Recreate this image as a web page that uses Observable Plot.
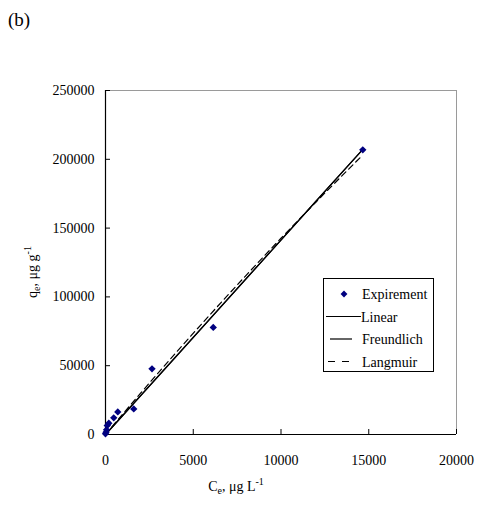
<!DOCTYPE html>
<html>
<head>
<meta charset="utf-8">
<script src="https://cdn.jsdelivr.net/npm/d3@7"></script>
<script src="https://cdn.jsdelivr.net/npm/@observablehq/plot@0.6"></script>
<style>
  html, body { margin: 0; padding: 0; background: #fff; }
  #wrap { position: relative; width: 477px; height: 505px; }
  #tag { position: absolute; left: 8px; top: 9px; font: 19px "Liberation Serif", "Times New Roman", serif; color: #000; }
</style>
</head>
<body>
<div id="wrap"><div id="tag">(b)</div><div id="chart"></div></div>
<script>
// Experimental points (Ce, qe)
const expC = [0, 30, 60, 100, 190, 470, 700, 1610, 2650, 6140, 14660];
const expQ = [500, 1700, 3400, 6500, 8200, 12100, 16400, 18600, 47700, 77800, 206900];

// Fitted curves
const linearC = [0, 14650];
const linearQ = [0, 207000];

const freundC = [0, 1000, 2000, 4000, 6000, 8000, 10000, 12000, 14650];
const freundQ = [0, 14000, 28100, 56300, 84600, 113000, 141300, 169700, 207000];

const langC = [0, 1000, 2000, 4000, 6000, 8000, 10000, 12000, 14650];
const langQ = [0, 15100, 30000, 59200, 87700, 115500, 142600, 169000, 203000];

const xTicks = [0, 5000, 10000, 15000, 20000];
const yTicks = [0, 50000, 100000, 150000, 200000, 250000];

const legendLabels = ["Expirement", "Linear", "Freundlich", "Langmuir"];

const pts = expC.map((c, i) => ({C: c, q: expQ[i]}));
const lin = linearC.map((c, i) => ({C: c, q: linearQ[i]}));
const fre = freundC.map((c, i) => ({C: c, q: freundQ[i]}));
const lan = langC.map((c, i) => ({C: c, q: langQ[i]}));

const font = '"Liberation Serif", "Times New Roman", serif';

const chart = Plot.plot({
  width: 477,
  height: 505,
  marginLeft: 105,
  marginRight: 21,
  marginTop: 90,
  marginBottom: 71,
  style: {fontFamily: font, fontSize: "14px", color: "#000", background: "#fff"},
  x: {domain: [0, 20000], label: null},
  y: {domain: [0, 250000], label: null},
  marks: [
    Plot.ruleY([250000], {stroke: "#9a9a9a", strokeWidth: 1}),
    Plot.ruleX([20000], {stroke: "#9a9a9a", strokeWidth: 1}),
    Plot.axisX({ticks: xTicks, tickSize: -5, tickFormat: () => "", label: null, stroke: "#000"}),
    Plot.axisX({ticks: xTicks, tickSize: 0, tickPadding: 21, tickFormat: d => String(d), label: null, fontSize: 14, fontFamily: font}),
    Plot.axisY({ticks: yTicks, tickSize: -5, tickFormat: () => "", label: null, stroke: "#000"}),
    Plot.axisY({ticks: yTicks, tickSize: 0, tickPadding: 11, tickFormat: d => String(d), label: null, fontSize: 14, fontFamily: font}),
    Plot.ruleX([0], {stroke: "#000", strokeWidth: 1.2}),
    Plot.ruleY([0], {stroke: "#000", strokeWidth: 1.2}),
    Plot.line(lin, {x: "C", y: "q", stroke: "#000", strokeWidth: 1.2}),
    Plot.line(fre, {x: "C", y: "q", stroke: "#000", strokeWidth: 1.2}),
    Plot.line(lan, {x: "C", y: "q", stroke: "#000", strokeWidth: 1.2, strokeDasharray: "6,4", curve: "monotone-x"}),
    Plot.dot(pts, {x: "C", y: "q", symbol: "diamond2", r: 3.3, fill: "#000080", stroke: "none"})
  ]
});
document.getElementById("chart").appendChild(chart);

// Axis titles and legend
const svg = d3.select(chart);

const yl = svg.append("text")
  .attr("transform", "translate(37,272) rotate(-90)")
  .attr("text-anchor", "middle")
  .style("font-family", font).style("font-size", "14px").attr("fill", "#000");
yl.append("tspan").text("q");
yl.append("tspan").attr("dy", 3).style("font-size", "10px").text("e");
yl.append("tspan").attr("dy", -3).text(", μg g");
yl.append("tspan").attr("dy", -6).style("font-size", "10px").text("-1");

const xl = svg.append("text")
  .attr("x", 236).attr("y", 491)
  .attr("text-anchor", "middle")
  .style("font-family", font).style("font-size", "14px").attr("fill", "#000");
xl.append("tspan").text("C");
xl.append("tspan").attr("dy", 3).style("font-size", "10px").text("e");
xl.append("tspan").attr("dy", -3).text(", μg L");
xl.append("tspan").attr("dy", -6).style("font-size", "10px").text("-1");

const lg = svg.append("g").style("font-family", font).style("font-size", "14px").attr("text-anchor", "start");
lg.append("rect").attr("x", 323.5).attr("y", 278.5).attr("width", 110).attr("height", 93)
  .attr("fill", "#fff").attr("stroke", "#000").attr("stroke-width", 1);
const rowY = [294, 316.5, 339, 361.5];
lg.append("path").attr("d", d3.symbol(d3.symbolDiamond2, 30)()).attr("transform", `translate(344,${rowY[0]})`).attr("fill", "#000080");
lg.append("line").attr("x1", 326).attr("x2", 361).attr("y1", rowY[1]).attr("y2", rowY[1]).attr("stroke", "#000").attr("stroke-width", 1.2);
lg.append("line").attr("x1", 330).attr("x2", 352).attr("y1", rowY[2]).attr("y2", rowY[2]).attr("stroke", "#000").attr("stroke-width", 1.2);
lg.append("line").attr("x1", 328).attr("x2", 356).attr("y1", rowY[3]).attr("y2", rowY[3]).attr("stroke", "#000").attr("stroke-width", 1.2).attr("stroke-dasharray", "7,7");
const textX = [362, 361, 362, 362];
legendLabels.forEach((t, i) => {
  lg.append("text").attr("x", textX[i]).attr("y", rowY[i] + 5).attr("text-anchor", "start").attr("fill", "#000").text(t);
});
</script>
</body>
</html>
